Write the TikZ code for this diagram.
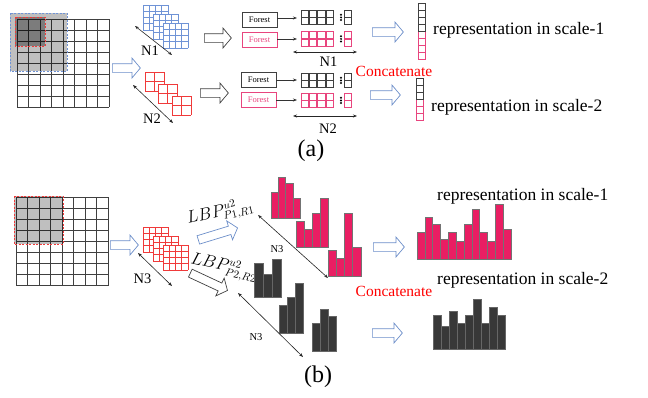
\documentclass[tikz,border=0pt]{standalone}
\usepackage{fontspec}
\setmainfont{Liberation Serif}
\usetikzlibrary{positioning,arrows.meta,shapes.arrows}
\definecolor{gblue}{HTML}{6F93D6}
\definecolor{ablue}{HTML}{6C8EC9}
\definecolor{gred}{HTML}{F03A3A}
\definecolor{gpink}{HTML}{E8457E}
\definecolor{hpink}{HTML}{E91E63}
\definecolor{hdark}{HTML}{383838}

% grid of n x n cells: x, y, n, cell width, cell height, line style
\newcommand{\cellgrid}[6]{%
  \fill[white] (#1,#2) rectangle ++(#3*#4,#3*#5);
  \foreach \g in {0,...,#3}{
    \draw[#6] (#1+\g*#4,#2) -- ++(0,#3*#5);
    \draw[#6] (#1,#2+\g*#5) -- ++(#3*#4,0);
  }
}
% feature block: 2x4 cells, dots, one more column
\newcommand{\featblock}[3]{%
  \foreach \c in {0,...,3}{
    \foreach \r in {0,1}{
      \draw[#3, line width=0.6pt] (#1+\c*8.3,#2+\r*7.5) rectangle ++(7.3,6.8);
    }
  }
  \foreach \r in {0,1} \draw[#3, line width=0.6pt] (#1+43,#2+\r*7.5) rectangle ++(7.3,6.8);
  \foreach \d in {-2.6,0,2.6} \fill[black] (#1+40,#2+7.4+\d) circle (1.1);
}
% bar histogram: x, bottom, bar width, tops, style
\newcommand{\barhist}[5]{%
  \foreach \t [count=\k from 0] in {#4}
    \draw[#5] (#1+\k*#3,\t) rectangle ++(#3,#2-\t);
}

\begin{document}
\begin{tikzpicture}[
  x=1pt, y=-1pt,
  >={Stealth[length=4pt,width=3pt]},
  hollow/.style={single arrow, draw=ablue, line width=0.7pt, minimum height=#1,
                 inner sep=0pt, inner ysep=4pt, single arrow head extend=5.5pt,
                 single arrow tip angle=100, anchor=tail},
  hollowk/.style={hollow=#1, draw=black!75},
  dbl/.style={<->, line width=0.6pt, draw=black!85},
  thin/.style={->, line width=0.6pt, draw=black!80},
  gridline/.style={line width=0.8pt, draw=black!75},
  fbox/.style={draw=black!75, line width=0.7pt, minimum width=35pt, minimum height=15pt,
               inner sep=0pt, font=\fontsize{8.5}{10}\selectfont},
  fboxp/.style={fbox, draw=gpink, text=gpink},
  replbl/.style={inner sep=0pt, anchor=base west, font=\fontsize{17.5}{20}\selectfont},
  nlbl/.style={inner sep=0pt, anchor=base, font=\fontsize{14.5}{16}\selectfont},
  slbl/.style={inner sep=0pt, anchor=base, font=\fontsize{10.5}{12}\selectfont},
  catlbl/.style={inner sep=0pt, anchor=base west, text=red, font=\fontsize{15.5}{18}\selectfont},
  panel/.style={inner sep=0pt, anchor=base, font=\fontsize{24}{28}\selectfont},
  lbp/.style={inner sep=0pt, anchor=base west, font=\fontsize{16}{18}\selectfont},
  hp/.style={fill=hpink, draw=black!55, line width=0.6pt},
  hk/.style={fill=hdark, draw=black!60, line width=0.6pt},
]
\useasboundingbox (0,0) rectangle (648,397);

% ======== (a) ========
% ---- input image and windows ----
\cellgrid{17}{19}{8}{11.5}{11}{gridline}
\fill[black, opacity=0.25] (10,13) rectangle (67,71);
\fill[black, opacity=0.35] (15,17) rectangle (45,46);
\draw[gblue, dashed, line width=1pt, dash pattern=on 2pt off 1.5pt] (10,13) rectangle (67,71);
\draw[gred, dashed, line width=1pt, dash pattern=on 2pt off 1.5pt] (15,17) rectangle (45,46);
\node[hollow=28] (ina) at (112,68) {};

% ---- patch stacks ----
\foreach \px/\py in {143/5,153/14,163/23}{
  \cellgrid{\px}{\py}{4}{6.25}{6.25}{gblue, line width=0.6pt}
}
\foreach \px/\py in {145/72,158/84,172/96}{
  \cellgrid{\px}{\py}{2}{9.5}{9.5}{gred, line width=0.6pt}
}
\coordinate (n1a) at (135,26);  \coordinate (n1b) at (172,55);
\coordinate (n2a) at (133,85);  \coordinate (n2b) at (173,123);
\draw[dbl] (n1a) -- (n1b);
\draw[dbl] (n2a) -- (n2b);
\node[nlbl] (N1) at (150,55) {N1};
\node[nlbl] (N2) at (152,123) {N2};

% ---- forests ----
\node[hollowk=27] (fa1) at (204,38) {};
\node[hollowk=28] (fa2) at (200,93) {};
\node[fbox]  (f1)  at (259.5,19.5) {Forest};
\node[fboxp] (f1p) at (259.5,40)   {Forest};
\node[fbox]  (f2)  at (258.5,79.5) {Forest};
\node[fboxp] (f2p) at (258.5,99.5) {Forest};
\foreach \b/\y in {f1/18,f1p/39,f2/80,f2p/100}{
  \coordinate (\b t) at (297,\y);
  \draw[thin] (\b.east |- \b t) -- (\b t);
}
\featblock{301}{10}{black!75}
\featblock{301}{31.5}{gpink}
\featblock{301}{73}{black!75}
\featblock{301}{93}{gpink}
\coordinate (w1a) at (293,52);  \coordinate (w1b) at (357,52);
\coordinate (w2a) at (293,116); \coordinate (w2b) at (357,116);
\draw[dbl] (w1a) -- (w1b);
\draw[dbl] (w2a) -- (w2b);
\node[nlbl] (N1c) at (328.5,66) {N1};
\node[nlbl] (N2c) at (328,133) {N2};
\node[catlbl] (cata) at (355.5,76.5) {Concatenate};

% ---- representations ----
\node[hollow=31] (ra1) at (372,32) {};
\node[hollow=30] (ra2) at (370,95) {};
\foreach \k in {0,...,3}{
  \draw[black!75, line width=0.6pt] (418,3+\k*7) rectangle ++(7,7);
  \draw[gpink, line width=0.6pt] (418,31+\k*7) rectangle ++(7,7);
}
\foreach \k in {0,...,2}{
  \draw[black!75, line width=0.6pt] (416,78+\k*7) rectangle ++(7,7);
  \draw[gpink, line width=0.6pt] (416,99+\k*7) rectangle ++(7,7);
}
\node[replbl] (repa1) at (433,34.5) {representation in scale-1};
\node[replbl] (repa2) at (431,111.5) {representation in scale-2};
\node[panel] (pa) at (311,156) {(a)};

% ======== (b) ========
% ---- input image and window ----
\cellgrid{16}{197}{8}{11.5}{11.1}{gridline}
\fill[black, opacity=0.25] (14,196) rectangle (63,244);
\draw[gred, dashed, line width=1pt, dash pattern=on 2pt off 1.5pt] (14,196) rectangle (63,244);
\node[hollow=28] (inb) at (110,245) {};

% ---- patch stack ----
\foreach \px/\py in {143/227,153/236,163/245}{
  \cellgrid{\px}{\py}{4}{6.25}{6.25}{gred, line width=0.6pt}
}
\coordinate (n3a) at (138,253); \coordinate (n3b) at (172,286);
\draw[dbl] (n3a) -- (n3b);
\node[nlbl] (N3) at (142.5,283) {N3};

% ---- LBP operators ----
\node[lbp, rotate=13]  (lbp1) at (188,224) {$LBP^{u2}_{P1,R1}$};
\node[lbp, rotate=-13] (lbp2) at (190,263) {$LBP^{u2}_{P2,R2}$};
\node[hollow=41, rotate=17]   (op1) at (198,240) {};
\node[hollowk=41, rotate=-25] (op2) at (190,273) {};

% ---- local histograms ----
\barhist{271}{218}{7.3}{192,177,183,198}{hp}
\barhist{296}{247}{8}{221,229,213,198}{hp}
\barhist{328}{276}{8.25}{250,258,213,247}{hp}
\barhist{254}{297}{9}{263,274,259}{hk}
\barhist{279}{333}{8}{305,297,283}{hk}
\barhist{312}{351}{8}{323,309,316}{hk}
\coordinate (h1a) at (258,215); \coordinate (h1b) at (328,278);
\coordinate (h2a) at (238,293); \coordinate (h2b) at (303,357);
\draw[dbl] (h1a) -- (h1b);
\draw[dbl] (h2a) -- (h2b);
\node[slbl] (N3p) at (277,252) {N3};
\node[slbl] (N3k) at (256,340) {N3};
\node[catlbl] (catb) at (355.5,296) {Concatenate};

% ---- representations ----
\node[hollow=31] (rb1) at (373,247) {};
\node[hollow=30] (rb2) at (372,333) {};
\barhist{417}{259}{7.83}{232.3,217.3,224.3,239.3,232.3,241.3,224.3,209.3,232.3,241.3,204.3,229.3}{hp}
\barhist{433}{349}{8.08}{315,326,311,323,315,299,323,307,315}{hk}
\node[replbl] (repb1) at (437,200.5) {representation in scale-1};
\node[replbl] (repb2) at (437,284.3) {representation in scale-2};
\node[panel] (pb) at (318,382) {(b)};
\end{tikzpicture}
\end{document}
